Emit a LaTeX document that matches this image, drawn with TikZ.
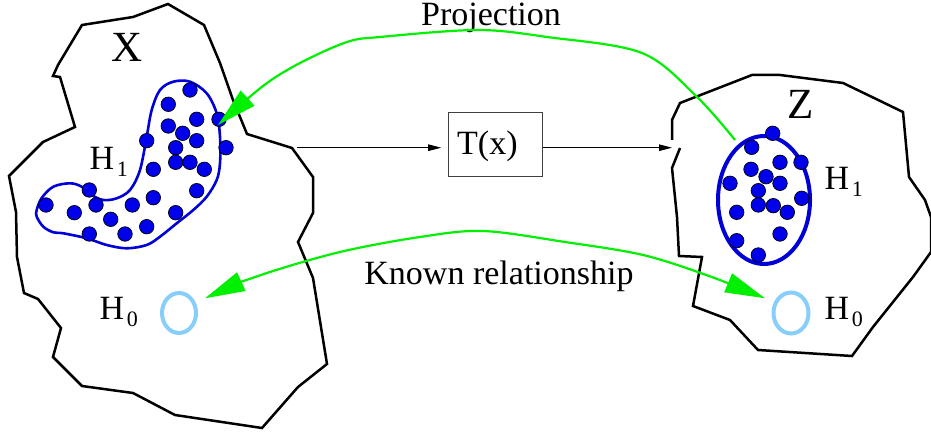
\documentclass[tikz,border=0pt]{standalone}
\usepackage{fontspec}
\setmainfont{Liberation Serif}
\usetikzlibrary{arrows.meta,shapes.geometric}
\definecolor{dotblue}{RGB}{0,0,235}
\definecolor{lineblue}{RGB}{0,0,215}
\definecolor{hzero}{RGB}{135,206,250}
\definecolor{projgreen}{RGB}{0,240,0}
\newcommand\Hsub[1]{H\hspace{2.5pt}\raisebox{-7.5pt}{\fontsize{22}{22}\selectfont #1}}
\tikzset{
  outline/.style={draw=black, line width=2.5pt, line join=miter},
  blobline/.style={draw=lineblue, line width=2.6pt},
  dot/.style={circle, fill=dotblue, draw=black, line width=0.7pt, minimum size=14.5pt, inner sep=0pt},
  hzring/.style={ellipse, draw=hzero, line width=4pt, inner sep=0pt},
  bigtext/.style={font=\fontsize{43}{43}\selectfont, inner sep=0pt, anchor=base},
  midtext/.style={font=\fontsize{34}{34}\selectfont, inner sep=0pt},
  tbox/.style={draw=black!75, line width=1.2pt, minimum width=94pt, minimum height=64pt, inner sep=0pt},
  flowarrow/.style={draw=black, line width=1pt, -{Triangle[length=13pt,width=6.5pt]}},
  greenline/.style={draw=projgreen, line width=2.2pt},
  greentip/.tip={Triangle[length=40pt,width=20pt]}
}
\begin{document}
\begin{tikzpicture}[x=1pt,y=-1pt]
\useasboundingbox (0,0) rectangle (931,435);

% X region outline
\draw[outline] (82,25)--(133,17)--(168,4)--(204,25)--(220,63)--(233,100)--(247,134)--(292,148)--(313,177)--(313,213)--(298,242)--(313,278)--(327,364)--(298,387)--(262,428)--(175,415)--(133,393)--(82,386)--(53,357)--(61,328)--(38,299)--(24,293)--(17,257)--(16,212)--(9,176)--(43,142)--(75,127)--(60,77)--(53,76)--(58,65)--cycle;

% Z region outline (open at the entry of the arrow)
\draw[outline] (680,148)--(672,168)--(677,217)--(679,256)--(702,257)--(693,306)--(730,320)--(758,350)--(852,356)--(873,327)--(913,277)--(931,252)--(931,217)--(925,200)--(909,177)--(903,112)--(843,83)--(780,75)--(752,75)--(680,103)--(672,120)--(672,140);

% H1 region in X
\draw[blobline] plot[smooth cycle, tension=0.55] coordinates {
 (36.7,210) (41.7,198) (53.3,186.7) (70,183.3) (81.7,186.7) (91.7,195) (103.3,200) (116.7,198.3) (130,190) (140,170) (146.7,136.7) (151.7,110) (160,90) (173.3,81.7) (190,81.7) (206.7,93.3) (216.7,113.3) (220,136.7) (220,163.3) (216.7,180) (206.7,196.7) (193.3,210) (176.7,223.3) (160,236.7) (146.7,245) (126.7,248.3) (106.7,245) (86.7,238.3) (63.3,233.3) (53.3,232.3) (43.3,226.7) (36.7,216.7)};

% H1 ellipse in Z
\node[ellipse, draw=lineblue, line width=4pt, minimum width=92pt, minimum height=128pt, inner sep=0pt] (ZH1) at (764,200) {};

% dots in X
\foreach \p [count=\i] in {(190,90),(168.3,104.3),(196.7,119.3),(219,119.3),(168.3,126),(182.7,133.3),(196.7,140.7),(146.7,140.7),(226,147.7),(175.7,147.7),(153.3,169.3),(175.7,162.3),(190,162.3),(204.3,169.3),(196.7,190.7),(89.3,190),(153.3,197.7),(132.3,205),(46,205),(96,205),(74.3,212.7),(175.7,212.7),(110.7,219.3),(146.7,226.7),(125,234),(89.3,234)}
  \node[dot] (dx\i) at \p {};

% dots in Z
\foreach \p [count=\i] in {(772.7,133.3),(751.7,147.3),(780,162.3),(801,162.3),(751,169.3),(766,176.7),(780,183.3),(730,183.3),(758.3,190.7),(801.7,198.3),(758.3,205),(773.3,205.7),(787.3,212.3),(736.7,212.3),(780,234),(736.7,240.7),(758.3,255)}
  \node[dot] (dz\i) at \p {};

% H0 rings
\node[hzring, minimum width=34pt, minimum height=40pt] (XH0) at (179,313) {};
\node[hzring, minimum width=35pt, minimum height=41pt] (ZH0) at (791,313) {};

% labels
\node[bigtext] (Xlab) at (127,62) {X};
\node[bigtext] (Zlab) at (801,119) {Z};
\node[midtext, anchor=base west] (XH1lab) at (89.5,169.5) {\Hsub{1}};
\node[midtext, anchor=base west] (XH0lab) at (99.5,319.5) {\Hsub{0}};
\node[midtext, anchor=base west] (ZH1lab) at (824.5,189.5) {\Hsub{1}};
\node[midtext, anchor=base west] (ZH0lab) at (824.5,319.5) {\Hsub{0}};
\node[midtext, anchor=base] (projlab) at (491,26) {Projection};
\node[midtext, anchor=base] (knownlab) at (499,285) {Known relationship};

% transform box
\node[tbox] (T) at (495.8,144.5) {};
\node[midtext, anchor=base west] (Tlab) at (457,155) {T(x)};

% flow arrows
\coordinate (xout) at (297,147.7);
\coordinate (zin) at (672,147.7);
\draw[flowarrow, shorten >=7pt] (xout) -- (xout -| T.west);
\draw[flowarrow] (T.east |- zin) -- (zin);

% projection arrow
\coordinate (pstart) at (735,140);
\coordinate (pend) at (218,125);
\draw[greenline, -greentip] plot[smooth, tension=0.55] coordinates {(pstart) (697,97) (642,53) (547,37) (477,30) (380,37) (347,42) (300,63) (263,86) (pend)};

% known relationship arrow
\coordinate (kl) at (205,298.3);
\coordinate (kr) at (765,298.3);
\draw[greenline, greentip-greentip] plot[smooth, tension=0.55] coordinates {(kl) (261,275) (340,252) (420,237) (483,231) (565,242) (643,255) (709,276) (kr)};
\end{tikzpicture}
\end{document}
